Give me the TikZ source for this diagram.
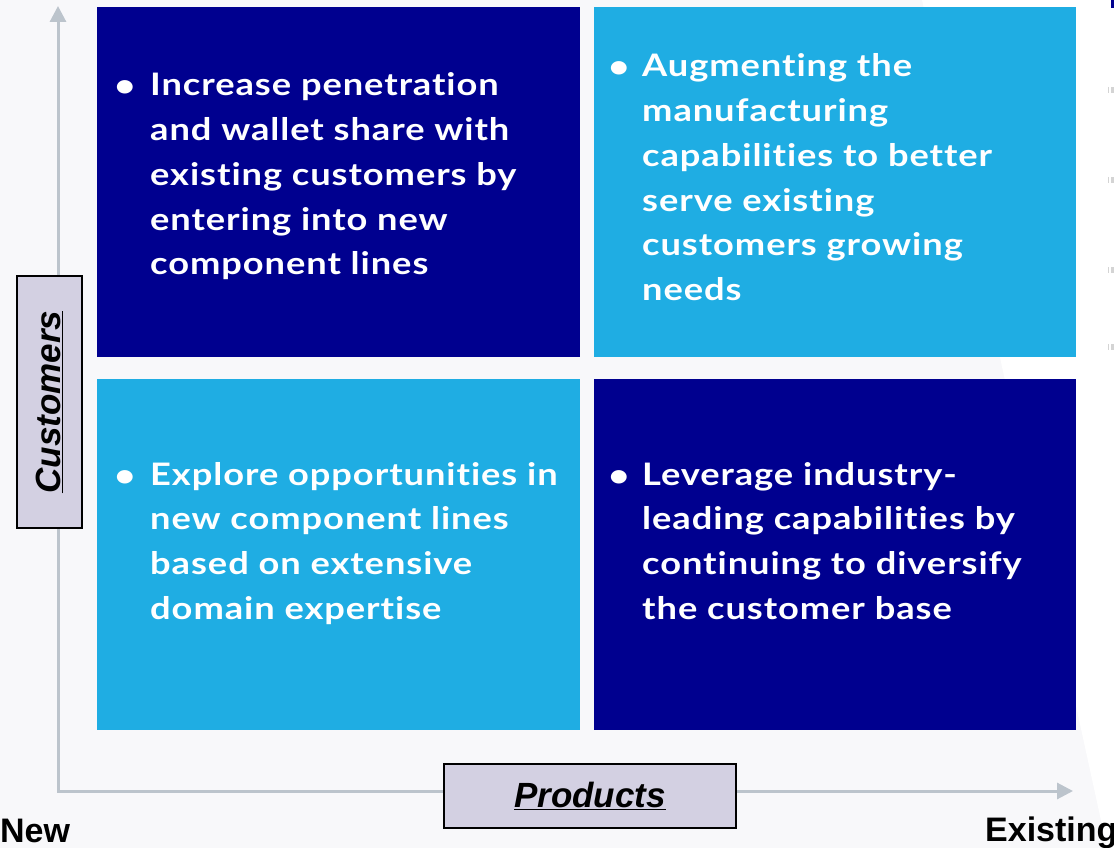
\documentclass[tikz,border=0pt]{standalone}
\usepackage{fontspec}
\setmainfont{Lato}[Ligatures=NoCommon, FakeStretch=1.17, LetterSpace=3]
\newfontfamily\labelfont{Liberation Sans}
\usetikzlibrary{arrows.meta}
\definecolor{bg}{HTML}{F8F8FA}
\definecolor{navy}{HTML}{00008F}
\definecolor{sky}{HTML}{1FADE3}
\definecolor{lav}{HTML}{D3D0E2}
\definecolor{axisgray}{HTML}{BCC4CC}
\definecolor{tickgray}{HTML}{D4D4D4}
\begin{document}
\begin{tikzpicture}[x=1pt,y=-1pt,
  quad/.style={anchor=north west, inner sep=0pt, outer sep=0pt, draw=none, minimum width=#1},
  body/.style={anchor=base west, inner sep=0pt, text=white, font=\fontsize{31}{44.75}\selectfont\bfseries},
  bul/.style={anchor=base, inner sep=0pt, text=white, font=\fontsize{31}{44.75}\selectfont\bfseries},
  axis/.style={draw=axisgray, line width=3pt},
  lbox/.style={draw=black, line width=1.6pt, fill=lav, inner sep=0pt},
  ltext/.style={font=\labelfont\fontsize{35}{40}\selectfont\bfseries\itshape},
  corner/.style={inner sep=0pt, font=\labelfont\fontsize{34}{40}\selectfont\bfseries}]
\useasboundingbox (0,0) rectangle (1114,848);
\fill[bg] (0,0) rectangle (1114,848);
\fill[white] (922,0) -- (1114,0) -- (1114,848) -- (1107,848) -- cycle;
% faint cut-off marks at the right edge
\fill[navy] (1111,0) rectangle (1114,8);
\foreach \yy in {90,180,270,347}{
  \fill[tickgray] (1111,\yy-3) rectangle (1114,\yy+3);
  \draw[tickgray, line width=0.6pt] (1108.5,\yy-3) -- (1108.5,\yy+3);
}
% axes
\coordinate (ytip) at (58,6);
\coordinate (O) at (58,791);
\coordinate (xtip) at (1073,791);
\draw[axis, {Triangle[width=16pt,length=16pt]}-{Triangle[width=16pt,length=16pt]}] (ytip) |- (xtip);
% quadrants
\node[quad=483pt, minimum height=350pt, fill=navy] (tl) at (97,7) {};
\node[quad=482pt, minimum height=350pt, fill=sky] (tr) at (594,7) {};
\node[quad=483pt, minimum height=351pt, fill=sky] (bl) at (97,379) {};
\node[quad=482pt, minimum height=351pt, fill=navy] (br) at (594,379) {};
% texts
\node[bul] (b1) at (125,97) {\textbullet};
\node[body] (t1) at (150,96) {\begin{tabular}[t]{@{}l@{}}Increase penetration\\and wallet share with\\existing customers by\\entering into new\\component lines\end{tabular}};
\node[bul] (b2) at (619,78) {\textbullet};
\node[body] (t2) at (642,77) {\begin{tabular}[t]{@{}l@{}}Augmenting the\\manufacturing\\capabilities to better\\serve existing\\customers growing\\needs\end{tabular}};
\node[bul] (b3) at (125,486) {\textbullet};
\node[body] (t3) at (150,485) {\begin{tabular}[t]{@{}l@{}}Explore opportunities in\\new component lines\\based on extensive\\domain expertise\end{tabular}};
\node[bul] (b4) at (619,486) {\textbullet};
\node[body] (t4) at (642,485) {\begin{tabular}[t]{@{}l@{}}Leverage industry-\\leading capabilities by\\continuing to diversify\\the customer base\end{tabular}};
% axis labels
\node[lbox, minimum width=65pt, minimum height=252pt] (cbox) at (49.5,402) {};
\node[ltext, rotate=90] (ctext) at (cbox.center) {\underline{Customers}};
\node[lbox, minimum width=292pt, minimum height=64pt] (pbox) at (590,796) {};
\node[ltext] (ptext) at (pbox.center) {\underline{Products}};
\node[corner, anchor=base west] (new) at (0,842) {New};
\node[corner, anchor=base west] (ex) at (985,841) {Existing};
\end{tikzpicture}
\end{document}
